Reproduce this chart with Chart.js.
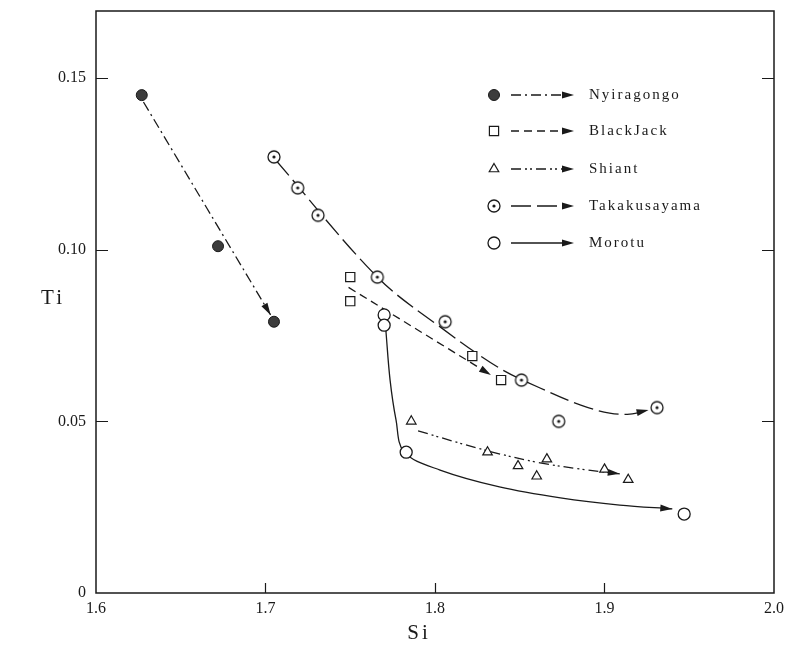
<!DOCTYPE html>
<html>
<head>
<meta charset="utf-8">
<script src="https://cdn.jsdelivr.net/npm/chart.js@4.4.0/dist/chart.umd.min.js"></script>
<style>
  html, body { margin: 0; padding: 0; background: #fff; overflow: hidden; }
  #wrap { width: 785px; height: 652px; }
</style>
</head>
<body>
<div id="wrap"><canvas id="myChart"></canvas></div>
<script>
'use strict';

// ---------------- data ----------------
var seriesNames = ['Nyiragongo', 'BlackJack', 'Shiant', 'Takakusayama', 'Morotu'];

var xTicks = [1.6, 1.7, 1.8, 1.9, 2.0];
var xTickLabels = ['1.6', '1.7', '1.8', '1.9', '2.0'];
var yTicks = [0, 0.05, 0.10, 0.15];
var yTickLabels = ['0', '0.05', '0.10', '0.15'];

// measured samples (Si, Ti)
var nyiragongoSi = [1.627, 1.672, 1.705];
var nyiragongoTi = [0.145, 0.101, 0.079];
var blackJackSi = [1.750, 1.750, 1.822, 1.839];
var blackJackTi = [0.092, 0.085, 0.069, 0.062];
var shiantSi = [1.786, 1.831, 1.849, 1.866, 1.860, 1.900, 1.914];
var shiantTi = [0.050, 0.041, 0.037, 0.039, 0.034, 0.036, 0.033];
var takaSi = [1.705, 1.719, 1.731, 1.766, 1.806, 1.851, 1.873, 1.931];
var takaTi = [0.127, 0.118, 0.110, 0.092, 0.079, 0.062, 0.050, 0.054];
var morotuSi = [1.770, 1.770, 1.783, 1.947];
var morotuTi = [0.081, 0.078, 0.041, 0.023];

// hand drawn trend arrows (Si, Ti)
var nyiragongoTrendSi = [1.628, 1.703];
var nyiragongoTrendTi = [0.143, 0.081];
var blackJackTrendSi = [1.749, 1.833];
var blackJackTrendTi = [0.089, 0.0635];
var shiantTrendSi = [1.790, 1.831, 1.862, 1.886, 1.909];
var shiantTrendTi = [0.0472, 0.0414, 0.0379, 0.0361, 0.0347];
var takaTrendSi = [1.706, 1.766, 1.803, 1.838, 1.862, 1.886, 1.903, 1.915, 1.926];
var takaTrendTi = [0.1261, 0.0920, 0.0775, 0.0655, 0.0597, 0.0547, 0.0524, 0.0521, 0.0533];
var morotuTrendSi = [1.771, 1.7735, 1.777, 1.7817, 1.803, 1.838, 1.874, 1.909, 1.940];
var morotuTrendTi = [0.0766, 0.0620, 0.0504, 0.0411, 0.0358, 0.0309, 0.0277, 0.0256, 0.0245];

var ink = '#1a1a1a';
var serif = '"Liberation Serif", "DejaVu Serif", serif';

function pairs(xs, ys) {
  return xs.map(function (x, i) {
    return { x: x, y: ys[i] };
  });
}

// circle with a dot in the middle for Takakusayama
function dotCircle() {
  var c = document.createElement('canvas');
  c.width = 16;
  c.height = 16;
  var g = c.getContext('2d');
  g.strokeStyle = ink;
  g.lineWidth = 1.3;
  g.beginPath();
  g.arc(8, 8, 6, 0, Math.PI * 2);
  g.fillStyle = '#fff';
  g.fill();
  g.stroke();
  g.fillStyle = ink;
  g.beginPath();
  g.arc(8, 8, 1.6, 0, Math.PI * 2);
  g.fill();
  return c;
}
var takaMarker = dotCircle();

var markerStyles = [
  { pointStyle: 'circle', pointRadius: 5.5, pointBackgroundColor: '#3c3c3c', pointBorderColor: ink, pointBorderWidth: 1 },
  { pointStyle: 'rect', pointRadius: 6.5, pointBackgroundColor: '#fff', pointBorderColor: ink, pointBorderWidth: 1.2 },
  { pointStyle: 'triangle', pointRadius: 5.5, pointBackgroundColor: '#fff', pointBorderColor: ink, pointBorderWidth: 1.2 },
  { pointStyle: takaMarker, pointRadius: 8, pointBackgroundColor: '#fff', pointBorderColor: ink, pointBorderWidth: 1.2 },
  { pointStyle: 'circle', pointRadius: 6, pointBackgroundColor: '#fff', pointBorderColor: ink, pointBorderWidth: 1.3 }
];
var dashes = [[10, 4, 2, 4], [8, 5], [10, 4, 2, 3, 2, 4], [20, 6], []];

var sampleData = [
  pairs(nyiragongoSi, nyiragongoTi),
  pairs(blackJackSi, blackJackTi),
  pairs(shiantSi, shiantTi),
  pairs(takaSi, takaTi),
  pairs(morotuSi, morotuTi)
];
var trendData = [
  pairs(nyiragongoTrendSi, nyiragongoTrendTi),
  pairs(blackJackTrendSi, blackJackTrendTi),
  pairs(shiantTrendSi, shiantTrendTi),
  pairs(takaTrendSi, takaTrendTi),
  pairs(morotuTrendSi, morotuTrendTi)
];

var datasets = [];
for (var i = 0; i < seriesNames.length; i++) {
  datasets.push({
    label: seriesNames[i] + ' trend',
    data: trendData[i],
    showLine: true,
    isTrend: true,
    borderColor: ink,
    borderWidth: 1.3,
    borderDash: dashes[i],
    tension: 0.35,
    pointRadius: 0,
    order: 2
  });
}
for (var j = 0; j < seriesNames.length; j++) {
  var ds = {
    label: seriesNames[j],
    data: sampleData[j],
    showLine: false,
    order: 1
  };
  Object.assign(ds, markerStyles[j]);
  datasets.push(ds);
}

// ---------------- arrows, frame, ticks, titles, legend ----------------
function arrowHead(ctx, x, y, angle) {
  ctx.save();
  ctx.translate(x, y);
  ctx.rotate(angle);
  ctx.beginPath();
  ctx.moveTo(0, 0);
  ctx.lineTo(-12, -3.5);
  ctx.lineTo(-12, 3.5);
  ctx.closePath();
  ctx.fillStyle = ink;
  ctx.fill();
  ctx.restore();
}

var decorPlugin = {
  id: 'decor',
  afterDatasetsDraw: function (chart) {
    var ctx = chart.ctx;
    chart.data.datasets.forEach(function (d, k) {
      if (!d.isTrend) return;
      var pts = chart.getDatasetMeta(k).data;
      var last = pts[pts.length - 1];
      var prev = pts[pts.length - 2];
      var px = prev.x, py = prev.y;
      if (last.cp1x !== undefined && (Math.abs(last.cp1x - last.x) + Math.abs(last.cp1y - last.y)) > 1) {
        px = last.cp1x;
        py = last.cp1y;
      }
      arrowHead(ctx, last.x, last.y, Math.atan2(last.y - py, last.x - px));
    });
  },
  afterDraw: function (chart) {
    var ctx = chart.ctx;
    var area = chart.chartArea;
    var xs = chart.scales.x;
    var ys = chart.scales.y;
    ctx.save();
    ctx.strokeStyle = ink;
    ctx.lineWidth = 1.5;
    ctx.strokeRect(area.left, area.top, area.right - area.left, area.bottom - area.top);

    // inward tick marks
    ctx.lineWidth = 1.2;
    ctx.beginPath();
    for (var a = 1; a < xTicks.length - 1; a++) {
      var tx = Math.round(xs.getPixelForValue(xTicks[a])) + 0.5;
      ctx.moveTo(tx, area.bottom);
      ctx.lineTo(tx, area.bottom - 10);
    }
    for (var b = 1; b < yTicks.length; b++) {
      var ty = Math.round(ys.getPixelForValue(yTicks[b])) + 0.5;
      ctx.moveTo(area.left, ty);
      ctx.lineTo(area.left + 12, ty);
      ctx.moveTo(area.right, ty);
      ctx.lineTo(area.right - 12, ty);
    }
    ctx.stroke();

    // axis titles, upright like the original
    ctx.fillStyle = ink;
    ctx.font = '21px ' + serif;
    ctx.letterSpacing = '3px';
    ctx.textAlign = 'center';
    ctx.textBaseline = 'middle';
    ctx.fillText('Si', 419, 633);
    ctx.fillText('Ti', 53, 298);

    // legend
    var rows = [95, 131, 169, 206, 243];
    ctx.font = '15px ' + serif;
    ctx.letterSpacing = '2px';
    ctx.textAlign = 'left';
    for (var r = 0; r < seriesNames.length; r++) {
      var y = rows[r];
      var st = markerStyles[r];
      ctx.fillStyle = st.pointBackgroundColor;
      ctx.strokeStyle = st.pointBorderColor;
      ctx.lineWidth = st.pointBorderWidth;
      Chart.helpers.drawPoint(ctx, {
        pointStyle: st.pointStyle,
        radius: st.pointRadius,
        rotation: 0,
        borderWidth: st.pointBorderWidth
      }, 494, y);
      ctx.strokeStyle = ink;
      ctx.lineWidth = 1.3;
      ctx.setLineDash(dashes[r]);
      ctx.beginPath();
      ctx.moveTo(511, y);
      ctx.lineTo(566, y);
      ctx.stroke();
      ctx.setLineDash([]);
      arrowHead(ctx, 574, y, 0);
      ctx.fillStyle = ink;
      ctx.fillText(seriesNames[r], 589, y);
    }
    ctx.restore();
  }
};

var ctx = document.getElementById('myChart').getContext('2d');
var chart = new Chart(ctx, {
  type: 'scatter',
  data: { datasets: datasets },
  options: {
    responsive: true,
    maintainAspectRatio: false,
    animation: false,
    layout: { padding: { top: 11, right: 11, left: 0, bottom: 0 } },
    plugins: {
      legend: { display: false },
      tooltip: { enabled: false }
    },
    scales: {
      x: {
        type: 'linear',
        min: 1.6,
        max: 2.0,
        afterBuildTicks: function (scale) {
          scale.ticks = xTicks.map(function (v) { return { value: v }; });
        },
        afterFit: function (scale) {
          scale.height = 59;
          scale.paddingLeft = 0;
          scale.paddingRight = 0;
        },
        ticks: {
          color: ink,
          padding: 6,
          maxRotation: 0,
          font: { family: serif, size: 16 },
          callback: function (v, idx) { return xTickLabels[idx]; }
        },
        grid: { display: false, drawTicks: false },
        border: { display: false }
      },
      y: {
        type: 'linear',
        min: 0,
        max: 0.1695,
        afterBuildTicks: function (scale) {
          scale.ticks = yTicks.map(function (v) { return { value: v }; });
        },
        afterFit: function (scale) {
          scale.width = 96;
          scale.paddingTop = 0;
          scale.paddingBottom = 0;
        },
        ticks: {
          color: ink,
          padding: 10,
          font: { family: serif, size: 16 },
          callback: function (v, idx) { return yTickLabels[idx]; }
        },
        grid: { display: false, drawTicks: false },
        border: { display: false }
      }
    }
  },
  plugins: [decorPlugin]
});
</script>
</body>
</html>
